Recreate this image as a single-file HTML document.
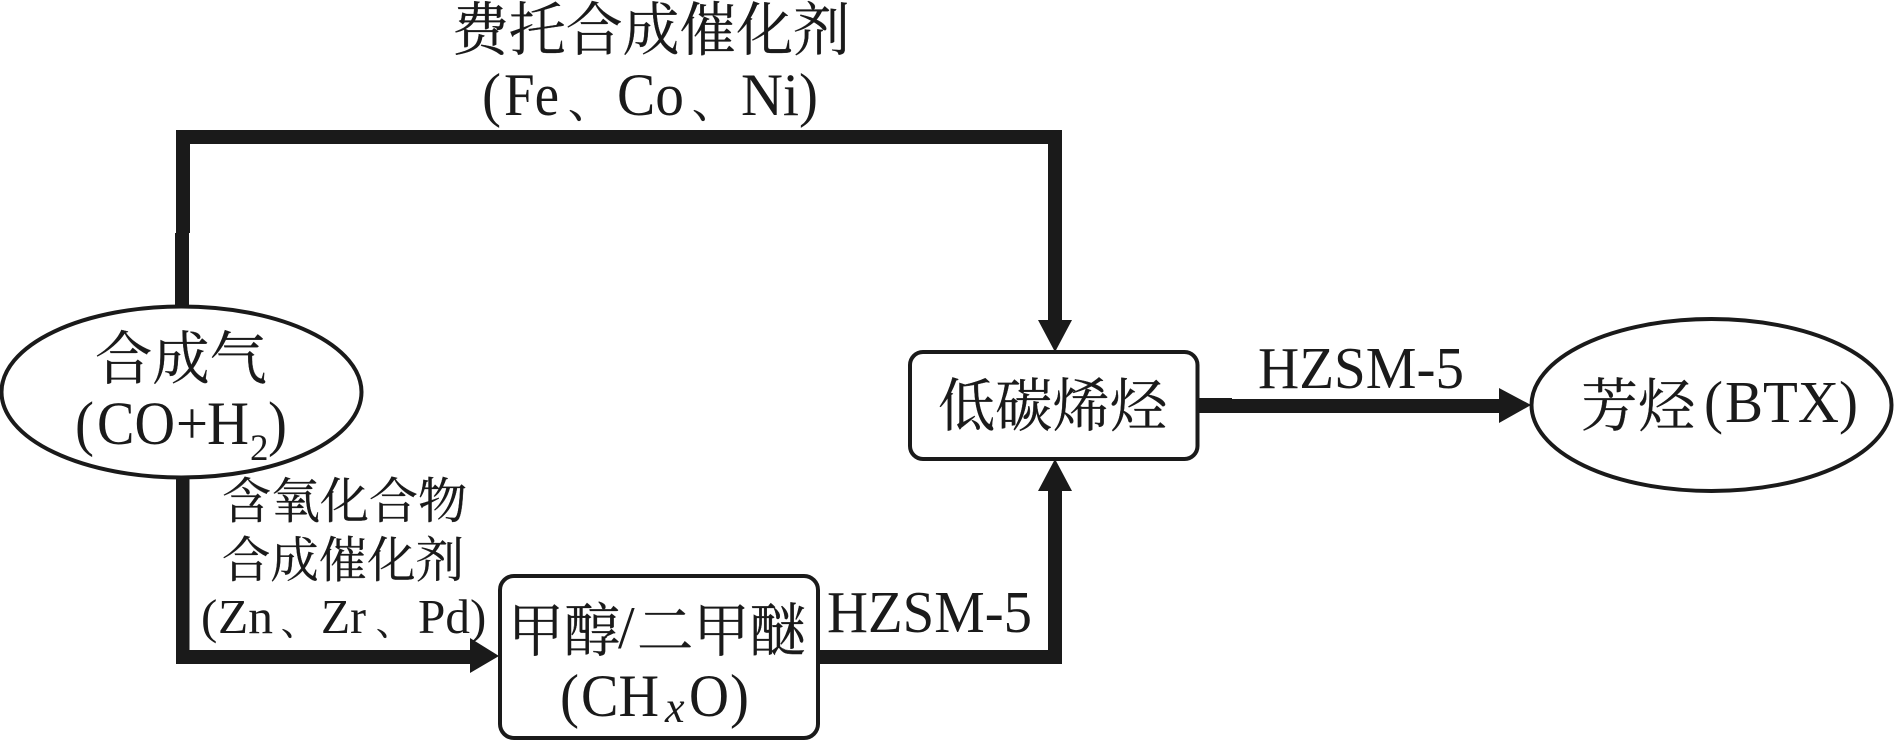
<!DOCTYPE html>
<html><head><meta charset="utf-8"><style>
html,body{margin:0;padding:0;background:#fff}
svg{display:block}
text{fill:#1a1a1a}
.c{font-family:"Noto Serif CJK SC","Liberation Serif",serif;stroke:#1a1a1a;stroke-width:.3px}
.l{font-family:"Liberation Serif","Noto Serif CJK SC",serif}
</style></head><body>
<svg width="1894" height="740" viewBox="0 0 1894 740" xmlns="http://www.w3.org/2000/svg">
<rect width="1894" height="740" fill="#fff"/>
<g fill="#1a1a1a">
<polygon points="176,130 1062,130 1062,322 1048,322 1048,144 190,144 190,233 189,233 189,310 175,310 175,233 176,233"/>
<polygon points="1038,320 1072,320 1055,352"/>
<rect x="176" y="475" width="13.5" height="189"/>
<rect x="176" y="650" width="300" height="14"/>
<polygon points="470,638 499,656 470,673"/>
<rect x="818" y="650" width="244" height="14"/>
<rect x="1048" y="488" width="14" height="176"/>
<polygon points="1038,491 1072,491 1055,459"/>
<polygon points="1197,398 1232,398 1232,399 1502,399 1502,413 1197,413"/>
<polygon points="1499,388 1531,405 1499,423"/>
</g>
<g fill="#fff" stroke="#1a1a1a" stroke-width="4">
<ellipse cx="181.5" cy="392" rx="180" ry="85.5"/>
<ellipse cx="1711.5" cy="405" rx="180" ry="86"/>
<rect x="500" y="576" width="318" height="162" rx="14"/>
<rect x="910" y="352" width="287.5" height="107" rx="13"/>
</g>
<g>
<text class="c" x="452" y="50" font-size="58" textLength="398" lengthAdjust="spacingAndGlyphs">费托合成催化剂</text>
<text class="l" x="482" y="115" font-size="60" textLength="19" lengthAdjust="spacingAndGlyphs">(</text>
<text class="l" x="504" y="115" font-size="60" textLength="55" lengthAdjust="spacingAndGlyphs">Fe</text>
<text class="c" x="568" y="117" font-size="44">、</text>
<text class="l" x="617" y="115" font-size="60" textLength="67" lengthAdjust="spacingAndGlyphs">Co</text>
<text class="c" x="692" y="117" font-size="44">、</text>
<text class="l" x="741" y="115" font-size="60" textLength="58" lengthAdjust="spacingAndGlyphs">Ni</text>
<text class="l" x="799" y="115" font-size="60" textLength="19" lengthAdjust="spacingAndGlyphs">)</text>

<text class="c" x="95" y="379" font-size="58" textLength="172" lengthAdjust="spacingAndGlyphs">合成气</text>
<text class="l" x="75" y="444" font-size="61" textLength="19" lengthAdjust="spacingAndGlyphs">(</text>
<text class="l" x="97" y="444" font-size="61" textLength="78" lengthAdjust="spacingAndGlyphs">CO</text>
<text class="l" x="176" y="444" font-size="61" textLength="32" lengthAdjust="spacingAndGlyphs">+</text>
<text class="l" x="207" y="444" font-size="61" textLength="42" lengthAdjust="spacingAndGlyphs">H</text>
<text class="l" x="250" y="460" font-size="37">2</text>
<text class="l" x="268" y="444" font-size="61" textLength="19" lengthAdjust="spacingAndGlyphs">)</text>

<text class="c" x="222" y="518" font-size="49" textLength="245" lengthAdjust="spacingAndGlyphs">含氧化合物</text>
<text class="c" x="222" y="577" font-size="49" textLength="242" lengthAdjust="spacingAndGlyphs">合成催化剂</text>
<text class="l" x="201" y="633" font-size="49">(</text>
<text class="l" x="218" y="633" font-size="49" textLength="55" lengthAdjust="spacingAndGlyphs">Zn</text>
<text class="c" x="281" y="635" font-size="36">、</text>
<text class="l" x="321" y="633" font-size="49" textLength="45" lengthAdjust="spacingAndGlyphs">Zr</text>
<text class="c" x="376" y="635" font-size="36">、</text>
<text class="l" x="418" y="633" font-size="49" textLength="52" lengthAdjust="spacingAndGlyphs">Pd</text>
<text class="l" x="470" y="633" font-size="49">)</text>

<text class="c" x="508" y="651" font-size="58" textLength="112" lengthAdjust="spacingAndGlyphs">甲醇</text>
<text class="l" x="618" y="648" font-size="60">/</text>
<text class="c" x="637" y="651" font-size="58" textLength="169" lengthAdjust="spacingAndGlyphs">二甲醚</text>
<text class="l" x="560" y="716" font-size="60" textLength="19" lengthAdjust="spacingAndGlyphs">(</text>
<text class="l" x="581" y="716" font-size="60" textLength="78" lengthAdjust="spacingAndGlyphs">CH</text>
<text class="l" x="665" y="722" font-size="44" font-style="italic">x</text>
<text class="l" x="689" y="716" font-size="60" textLength="40" lengthAdjust="spacingAndGlyphs">O</text>
<text class="l" x="730" y="716" font-size="60" textLength="19" lengthAdjust="spacingAndGlyphs">)</text>

<text class="l" x="827" y="632" font-size="59" textLength="205" lengthAdjust="spacingAndGlyphs">HZSM-5</text>
<text class="c" x="938" y="426" font-size="58" textLength="229" lengthAdjust="spacingAndGlyphs">低碳烯烃</text>
<text class="l" x="1258" y="388" font-size="59" textLength="206" lengthAdjust="spacingAndGlyphs">HZSM-5</text>
<text class="c" x="1581" y="426" font-size="58" textLength="114" lengthAdjust="spacingAndGlyphs">芳烃</text>
<text class="l" x="1704" y="422" font-size="59" textLength="19" lengthAdjust="spacingAndGlyphs">(</text>
<text class="l" x="1725" y="422" font-size="59" textLength="114" lengthAdjust="spacingAndGlyphs">BTX</text>
<text class="l" x="1839" y="422" font-size="59" textLength="19" lengthAdjust="spacingAndGlyphs">)</text>
</g>
</svg>
</body></html>
